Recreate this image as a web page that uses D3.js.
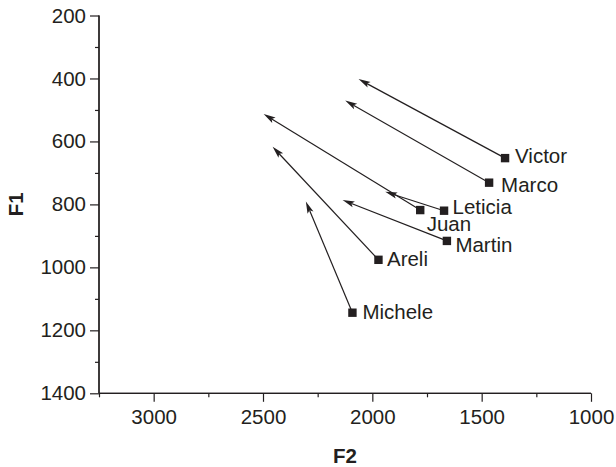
<!DOCTYPE html>
<html>
<head>
<meta charset="utf-8">
<script src="https://cdn.jsdelivr.net/npm/d3@7"></script>
<style>
  html, body { margin: 0; padding: 0; background: #fff; }
  svg { display: block; }
  text { font-family: "Liberation Sans", Arial, Helvetica, sans-serif; fill: #231f20; }
</style>
</head>
<body>
<svg id="chart" width="616" height="467"></svg>
<script>
// ---- data ----
const speakers = ["Victor", "Marco", "Leticia", "Juan", "Martin", "Areli", "Michele"];
const f2Start = [1393, 1466, 1672, 1781, 1659, 1972, 2091];
const f1Start = [653, 731, 820, 818, 916, 976, 1144];
const f2End = [2063, 2124, 1941, 2497, 2136, 2456, 2304];
const f1End = [402, 470, 760, 513, 786, 617, 791];
const xMajorTicks = [3000, 2500, 2000, 1500, 1000];
const xMinorTicks = [3250, 2750, 2250, 1750, 1250];
const yMajorTicks = [200, 400, 600, 800, 1000, 1200, 1400];
const yMinorTicks = [300, 500, 700, 900, 1100, 1300];
const xTitle = "F2";
const yTitle = "F1";

// ---- layout ----
const ink = "#231f20";
const svg = d3.select("#chart");
const x = d3.scaleLinear().domain([3250, 1000]).range([99, 591]);
const y = d3.scaleLinear().domain([200, 1400]).range([15.5, 393.3]);
const fontSize = 20.5;

// axes
const gx = svg.append("g").attr("transform", `translate(0,${y(1400)})`);
gx.call(d3.axisBottom(x).tickValues(xMajorTicks).tickSize(8.5).tickPadding(8).tickFormat(d3.format("d")));
gx.append("g").call(d3.axisBottom(x).tickValues(xMinorTicks).tickSize(4).tickFormat(""));
const gy = svg.append("g").attr("transform", `translate(${x(3250)},0)`);
gy.call(d3.axisLeft(y).tickValues(yMajorTicks).tickSize(9).tickPadding(4).tickFormat(d3.format("d")));
gy.append("g").call(d3.axisLeft(y).tickValues(yMinorTicks).tickSize(4).tickFormat(""));

svg.selectAll(".domain").attr("stroke", ink).attr("stroke-width", 1.3);
svg.selectAll(".tick line").attr("stroke", ink).attr("stroke-width", 1.2);
svg.selectAll(".tick text").attr("font-size", fontSize).attr("fill", ink)
   .attr("font-family", "'Liberation Sans', Arial, sans-serif");
gy.selectAll(".domain").attr("d", `M0,${y(200)}V${y(1400)}`);
gx.selectAll(".domain").attr("d", `M${x(3250)},0H${x(1000)}`);

// titles
svg.append("text").attr("x", (x.range()[0] + x.range()[1]) / 2).attr("y", 463)
  .attr("text-anchor", "middle").attr("font-weight", "bold").attr("font-size", fontSize).text(xTitle);
svg.append("text").attr("transform", `translate(23,${(y.range()[0] + y.range()[1]) / 2}) rotate(-90)`)
  .attr("text-anchor", "middle").attr("font-weight", "bold").attr("font-size", fontSize).text(yTitle);

// arrows
const data = speakers.map((s, i) => ({ name: s, x0: f2Start[i], y0: f1Start[i], x1: f2End[i], y1: f1End[i] }));
const headLen = 12, headHalf = 3.2, notch = 2.5;
const g = svg.append("g");
data.forEach(d => {
  const sx = x(d.x0), sy = y(d.y0), tx = x(d.x1), ty = y(d.y1);
  const dx = tx - sx, dy = ty - sy, L = Math.hypot(dx, dy);
  const ux = dx / L, uy = dy / L, nx = -uy, ny = ux;
  const bx = tx - ux * headLen, by = ty - uy * headLen;
  const mx = tx - ux * (headLen - notch), my = ty - uy * (headLen - notch);
  g.append("line").attr("x1", sx).attr("y1", sy).attr("x2", mx).attr("y2", my)
    .attr("stroke", ink).attr("stroke-width", 1.2);
  g.append("path")
    .attr("d", `M${tx},${ty}L${bx + nx * headHalf},${by + ny * headHalf}L${mx},${my}L${bx - nx * headHalf},${by - ny * headHalf}Z`)
    .attr("fill", ink);
});

// markers
g.selectAll("rect.m").data(data).join("rect").attr("class", "m")
  .attr("x", d => x(d.x0) - 4.2).attr("y", d => y(d.y0) - 4.2)
  .attr("width", 8.4).attr("height", 8.4).attr("fill", ink);

// labels (placement tweaks)
const labelShift = { Victor: [10, 5], Marco: [12, 9], Leticia: [8.5, 3], Juan: [6.5, 21], Martin: [8.5, 11], Areli: [8.5, 6], Michele: [10, 6] };
g.selectAll("text.lab").data(data).join("text").attr("class", "lab")
  .attr("x", d => d.name === "Juan" ? x(d.x0) + labelShift.Juan[0] : x(d.x0) + labelShift[d.name][0])
  .attr("y", d => y(d.y0) + labelShift[d.name][1])
  .attr("font-size", fontSize).text(d => d.name);
</script>
</body>
</html>
